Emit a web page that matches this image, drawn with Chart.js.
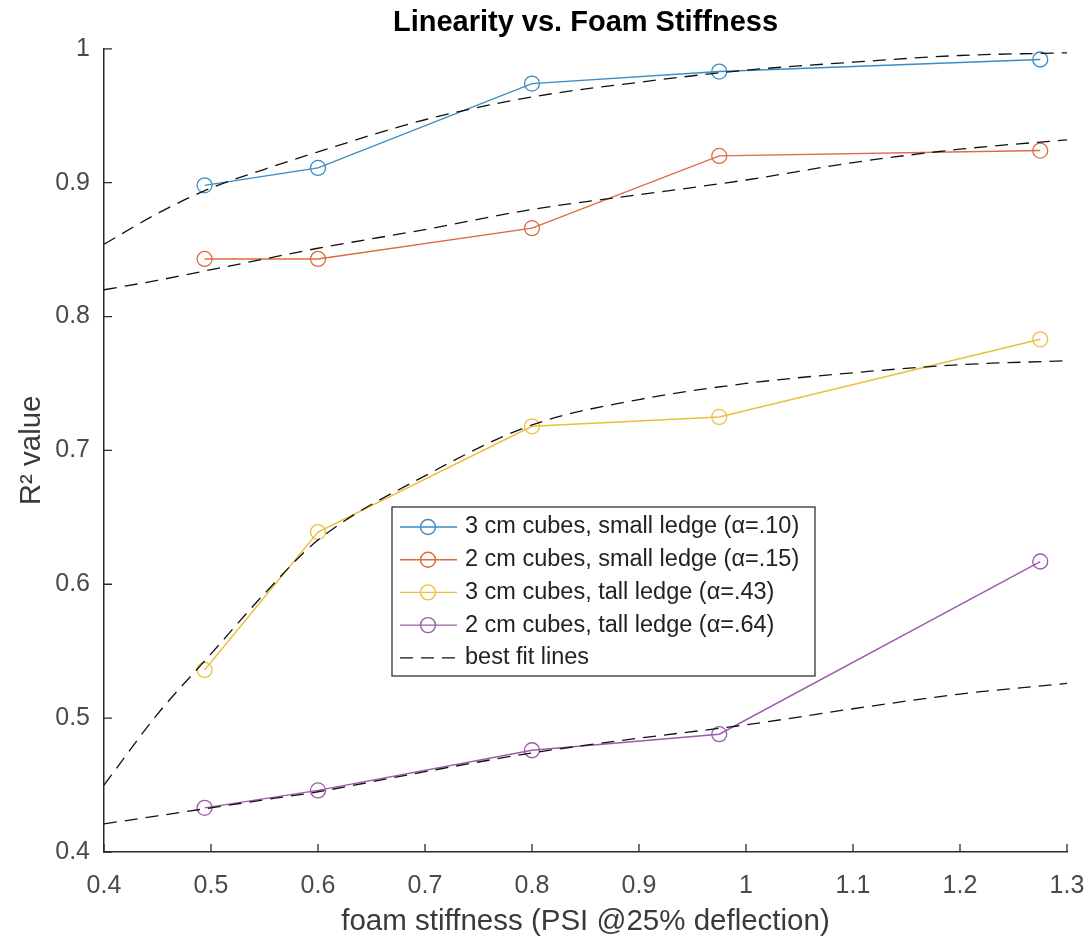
<!DOCTYPE html>
<html>
<head>
<meta charset="utf-8">
<title>Linearity vs. Foam Stiffness</title>
<script src="https://cdn.jsdelivr.net/npm/chart.js@4.4.1/dist/chart.umd.min.js"></script>
<style>
  html, body { margin: 0; padding: 0; background: #fff; }
  #wrap { width: 1089px; height: 940px; position: relative; }
</style>
</head>
<body>
<div id="wrap"><canvas id="myChart"></canvas></div>
<script>
// measured points
const stiffness = [0.494, 0.6, 0.8, 0.975, 1.275];
const small3cm = [0.898, 0.911, 0.974, 0.983, 0.992];
const small2cm = [0.843, 0.843, 0.866, 0.920, 0.924];
const tall3cm = [0.536, 0.639, 0.718, 0.725, 0.783];
const tall2cm = [0.433, 0.446, 0.476, 0.488, 0.617];

// best fit curves
const fitX = [0.4, 0.45, 0.5, 0.55, 0.6, 0.7, 0.8, 0.9, 1.0, 1.1, 1.2, 1.3];
const fitSmall3cm = [0.854, 0.877, 0.896, 0.910, 0.923, 0.947, 0.964, 0.975, 0.984, 0.990, 0.995, 0.997];
const fitSmall2cm = [0.820, 0.827, 0.835, 0.843, 0.851, 0.865, 0.880, 0.891, 0.902, 0.915, 0.925, 0.932];
const fitTall3cm = [0.450, 0.503, 0.548, 0.593, 0.633, 0.681, 0.719, 0.738, 0.750, 0.758, 0.764, 0.767];
const fitTall2cm = [0.421, 0.427, 0.433, 0.439, 0.445, 0.460, 0.474, 0.485, 0.495, 0.507, 0.518, 0.526];

const seriesLabels = [
  '3 cm cubes, small ledge (\u03b1=.10)',
  '2 cm cubes, small ledge (\u03b1=.15)',
  '3 cm cubes, tall ledge (\u03b1=.43)',
  '2 cm cubes, tall ledge (\u03b1=.64)'
];
const fitLabel = 'best fit lines';
const colors = ['#3a8cc4', '#dc6b3e', '#ebbf3a', '#9a5ca8'];

const fontFamily = '"Liberation Sans", Arial, Helvetica, sans-serif';
const axisColor = '#2b2b2b';
const tickColor = '#4a4a4a';

function pairs(xs, ys) {
  return xs.map((x, i) => ({x: x, y: ys[i]}));
}

const measured = [small3cm, small2cm, tall3cm, tall2cm];
const fits = [fitSmall3cm, fitSmall2cm, fitTall3cm, fitTall2cm];

const datasets = [];
measured.forEach((ys, i) => {
  datasets.push({
    label: seriesLabels[i],
    data: pairs(stiffness, ys),
    borderColor: colors[i],
    backgroundColor: 'rgba(0,0,0,0)',
    borderWidth: 1.4,
    pointRadius: 7.5,
    pointHoverRadius: 7.5,
    pointBorderWidth: 1.3,
    pointBorderColor: colors[i],
    pointBackgroundColor: 'rgba(0,0,0,0)',
    tension: 0,
    order: 1
  });
});
fits.forEach((ys) => {
  datasets.push({
    label: fitLabel,
    data: pairs(fitX, ys),
    borderColor: '#111',
    borderWidth: 1.3,
    borderDash: [13, 8],
    pointRadius: 0,
    cubicInterpolationMode: 'monotone',
    fill: false,
    order: 0
  });
});

// MATLAB style ticks pointing into the plot
const inwardTicks = {
  id: 'inwardTicks',
  afterDatasetsDraw(chart) {
    const {ctx, chartArea, scales} = chart;
    ctx.save();
    ctx.strokeStyle = axisColor;
    ctx.lineWidth = 1.3;
    ctx.beginPath();
    scales.x.ticks.forEach((t) => {
      const px = scales.x.getPixelForValue(t.value);
      ctx.moveTo(px, chartArea.bottom);
      ctx.lineTo(px, chartArea.bottom - 8);
    });
    scales.y.ticks.forEach((t) => {
      const py = scales.y.getPixelForValue(t.value);
      ctx.moveTo(chartArea.left, py);
      ctx.lineTo(chartArea.left + 8, py);
    });
    ctx.stroke();
    ctx.restore();
  }
};

// legend box inside the axes
const boxLegend = {
  id: 'boxLegend',
  afterDraw(chart) {
    const ctx = chart.ctx;
    const left = 392, top = 507, width = 423, height = 169;
    const rowTop = 527, rowGap = 32.7;
    ctx.save();
    ctx.fillStyle = '#fff';
    ctx.fillRect(left, top, width, height);
    ctx.strokeStyle = '#333';
    ctx.lineWidth = 1.3;
    ctx.strokeRect(left, top, width, height);
    ctx.font = '23.5px ' + fontFamily;
    ctx.textBaseline = 'middle';
    ctx.fillStyle = '#222';
    seriesLabels.forEach((label, i) => {
      const y = rowTop + i * rowGap;
      ctx.strokeStyle = colors[i];
      ctx.lineWidth = 1.4;
      ctx.beginPath();
      ctx.moveTo(400, y);
      ctx.lineTo(457, y);
      ctx.stroke();
      ctx.beginPath();
      ctx.arc(428, y, 7.5, 0, Math.PI * 2);
      ctx.stroke();
      ctx.fillText(label, 465, y);
    });
    const y = rowTop + 4 * rowGap;
    ctx.strokeStyle = '#111';
    ctx.lineWidth = 1.3;
    ctx.setLineDash([13, 8]);
    ctx.beginPath();
    ctx.moveTo(400, y);
    ctx.lineTo(457, y);
    ctx.stroke();
    ctx.setLineDash([]);
    ctx.fillText(fitLabel, 465, y);
    ctx.restore();
  }
};

function tickText(value) {
  return String(Number(value.toFixed(1)));
}

const ctx = document.getElementById('myChart').getContext('2d');
const myChart = new Chart(ctx, {
  type: 'line',
  data: {datasets: datasets},
  options: {
    responsive: true,
    maintainAspectRatio: false,
    animation: false,
    layout: {padding: {left: 0, right: 22, top: 0, bottom: 0}},
    plugins: {
      legend: {display: false},
      tooltip: {enabled: false},
      title: {
        display: true,
        text: 'Linearity vs. Foam Stiffness',
        fullSize: false,
        color: '#000',
        font: {family: fontFamily, size: 29, weight: 'bold'},
        padding: {top: 6, bottom: 8}
      }
    },
    scales: {
      x: {
        type: 'linear',
        min: 0.4,
        max: 1.3,
        grid: {display: false, drawTicks: false},
        border: {display: true, color: axisColor, width: 1.5},
        ticks: {
          stepSize: 0.1,
          color: tickColor,
          padding: 19,
          font: {family: fontFamily, size: 25},
          maxRotation: 0,
          callback: tickText
        },
        title: {
          display: true,
          text: 'foam stiffness (PSI @25% deflection)',
          color: '#3a3a3a',
          font: {family: fontFamily, size: 29.5},
          padding: {top: 0, bottom: 0}
        },
        afterFit(scale) {
          scale.height = 88;
          scale.paddingLeft = 0;
          scale.paddingRight = 0;
        }
      },
      y: {
        type: 'linear',
        min: 0.4,
        max: 1.0,
        grid: {display: false, drawTicks: false},
        border: {display: true, color: axisColor, width: 1.5},
        ticks: {
          stepSize: 0.1,
          color: tickColor,
          padding: 14,
          font: {family: fontFamily, size: 25},
          callback: tickText
        },
        title: {
          display: true,
          text: 'R\u00b2 value',
          color: '#3a3a3a',
          font: {family: fontFamily, size: 29.5},
          padding: {top: 14, bottom: 0}
        },
        afterFit(scale) { scale.width = 104; }
      }
    }
  },
  plugins: [inwardTicks, boxLegend]
});
</script>
</body>
</html>
